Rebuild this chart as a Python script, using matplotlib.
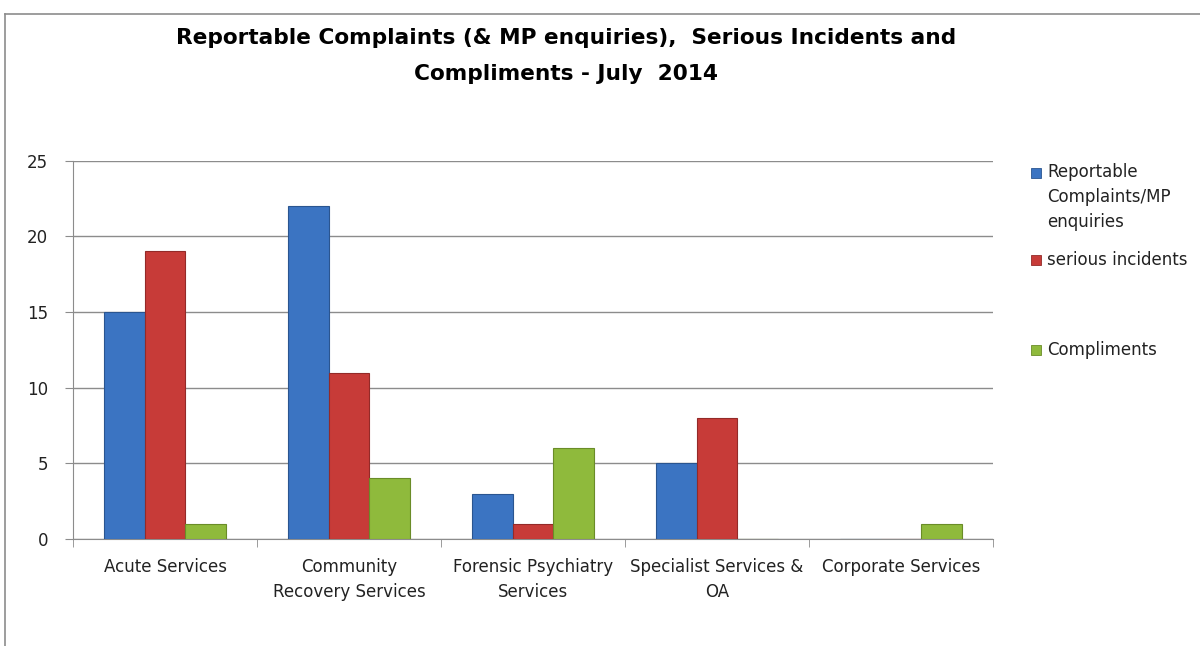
import matplotlib
matplotlib.use("Agg")
import matplotlib.pyplot as plt
import numpy as np
from matplotlib.patches import Rectangle
from matplotlib.lines import Line2D

categories = ["Acute Services", "Community\nRecovery Services", "Forensic Psychiatry\nServices",
              "Specialist Services &\nOA", "Corporate Services"]
series_names = ["Reportable\nComplaints/MP\nenquiries", "serious incidents", "Compliments"]
reportable = [15, 22, 3, 5, 0]
serious = [19, 11, 1, 8, 0]
compliments = [1, 4, 6, 0, 1]
yticks = [0, 5, 10, 15, 20, 25]
title = "Reportable Complaints (& MP enquiries),  Serious Incidents and\nCompliments - July  2014"

colors = ["#3b74c2", "#c73b38", "#8fba3c"]
edges = ["#2a5590", "#932a28", "#6a8c28"]

fig = plt.figure(figsize=(12, 6.46), dpi=100)
ax = fig.add_axes([73/1200, 1-539/646, (993-73)/1200, (539-160.7)/646])

n = len(categories)
x = np.arange(n)
w = 1/4.5
for i, vals in enumerate([reportable, serious, compliments]):
    pos = x - w + i*w
    ax.bar(pos, vals, width=w, color=colors[i], edgecolor=edges[i], linewidth=0.8, zorder=3)

ax.set_xlim(-0.5, n-0.5)
ax.set_ylim(0, 25)
ax.set_yticks(yticks)
ax.set_yticklabels([str(t) for t in yticks], fontsize=12, color="#222222")
ax.yaxis.grid(True, color="#8c8c8c", linewidth=1, zorder=0)
ax.set_xticks(x)
ax.set_xticklabels(categories, fontsize=12, color="#222222", linespacing=1.45)
ax.set_xticks(np.arange(-0.5, n, 1), minor=True)
ax.tick_params(axis="x", which="major", length=0, pad=14)
ax.tick_params(axis="x", which="minor", length=6, color="#8c8c8c")
ax.tick_params(axis="y", length=6, color="#8c8c8c", pad=12)
for s in ["top", "right"]:
    ax.spines[s].set_visible(False)
for s in ["left", "bottom"]:
    ax.spines[s].set_color("#8c8c8c")

fig.text(566/1200, 1-56/646, title, ha="center", va="center", fontsize=15.6, fontweight="bold",
         family=["DejaVu Sans"], linespacing=1.95)

# legend
leg_marker_y = [173, 260, 350]
for i in range(3):
    fig.patches.append(Rectangle((1031/1200, 1-(leg_marker_y[i]+5)/646), 10/1200, 10/646,
                                 transform=fig.transFigure, facecolor=colors[i], edgecolor=edges[i], lw=0.6))
    fig.text(1047/1200, 1-(leg_marker_y[i]-10)/646 if i == 0 else 1-leg_marker_y[i]/646, series_names[i],
             ha="left", va="top" if i == 0 else "center",
             fontsize=12, color="#222222", linespacing=1.5)

# outer frame
fig.add_artist(Line2D([5/1200, 1], [1-14/646, 1-14/646], transform=fig.transFigure, color="#8c8c8c", lw=1.2))
fig.add_artist(Line2D([5/1200, 5/1200], [0, 1-14/646], transform=fig.transFigure, color="#8c8c8c", lw=1.2))

fig.savefig("out.png", dpi=100)
